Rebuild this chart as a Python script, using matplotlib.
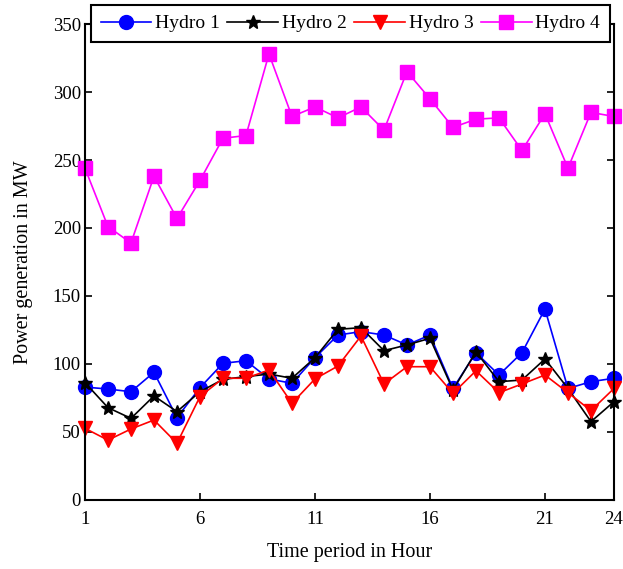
import numpy as np
import matplotlib.pyplot as plt

plt.rcParams['font.family'] = ['Liberation Serif', 'DejaVu Serif']

hours = np.arange(1, 25)

hydro1 = [83, 81.6, 79.6, 93.9, 60.5, 82.6, 100.5, 102.4, 89, 85.8, 104.6, 121.3,
          123.8, 121.3, 114, 121.3, 82, 108.3, 91.9, 108.3, 140.4, 82, 87, 89.5]
hydro2 = [86.3, 67.9, 60, 76.5, 65, 79.6, 88.7, 90.7, 92.6, 89.5, 104.6, 125.5,
          126.7, 109.8, 114, 118.9, 80.9, 109, 87, 88.2, 103.7, 82, 57.6, 72.3]
hydro3 = [52.7, 44, 52.2, 58.8, 41.7, 76, 89.5, 89.5, 95.6, 71.1, 89, 98.5,
          120.6, 85.3, 98, 98, 78.4, 95, 78.9, 85.3, 91.9, 78.9, 65.7, 82]
hydro4 = [244, 201, 189, 238, 207, 235, 266, 268, 328, 282, 289, 281,
          289, 272, 315, 295, 274, 280, 281, 257, 284, 244, 285, 282]

fig = plt.figure(figsize=(6.23, 5.69), dpi=100)
ax = fig.add_axes([0.1364, 0.1213, 0.8491, 0.8365])

ax.plot(hours, hydro1, color='blue', marker='o', markersize=10, lw=1.2,
        label='Hydro 1', clip_on=False)
ax.plot(hours, hydro2, color='black', marker='*', markersize=10, lw=1.2,
        label='Hydro 2', clip_on=False)
ax.plot(hours, hydro3, color='red', marker='v', markersize=10, lw=1.2,
        label='Hydro 3', clip_on=False)
ax.plot(hours, hydro4, color='magenta', marker='s', markersize=10, lw=1.2,
        label='Hydro 4', clip_on=False)

ax.set_xlim(1, 24)
ax.set_ylim(0, 350)
ax.set_xticks([1, 6, 11, 16, 21, 24])
ax.set_yticks(np.arange(0, 351, 50))
ax.tick_params(direction='in', length=5, width=1.2, labelsize=13.5, right=True)
ax.tick_params(axis='x', pad=8)
ax.tick_params(axis='y', pad=3)
for s in ax.spines.values():
    s.set_linewidth(1.5)

ax.set_xlabel('Time period in Hour', fontsize=14.5, labelpad=11)
ax.set_ylabel('Power generation in MW', fontsize=14.5, labelpad=14)

leg = fig.legend(loc='lower left', bbox_to_anchor=(0.146, 0.926, 0.833, 0.063),
                 mode='expand', ncol=4, fontsize=14, frameon=True, fancybox=False,
                 edgecolor='black', framealpha=1, handlelength=2.6, handletextpad=0.2,
                 columnspacing=0.1, borderaxespad=0, borderpad=0.5)
leg.get_frame().set_linewidth(1.5)

fig.savefig('out.png', dpi=100)
